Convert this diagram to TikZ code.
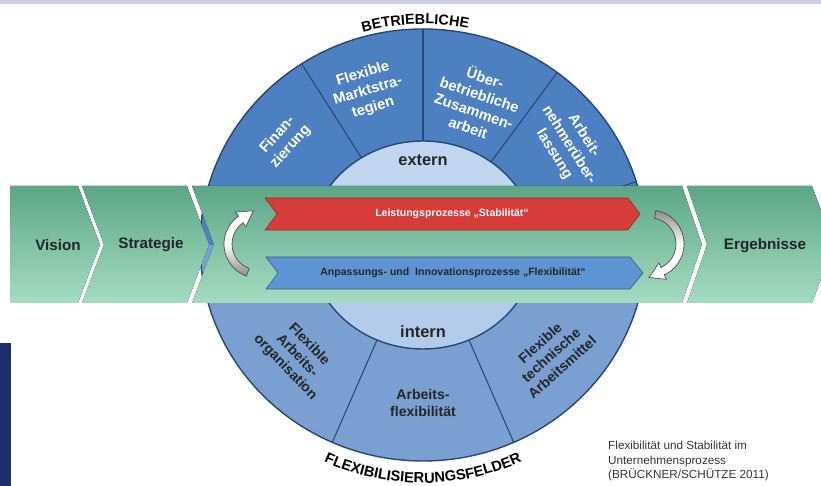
\documentclass[tikz,border=0pt]{standalone}
\usepackage{fontspec}
\setmainfont{Liberation Sans}
\usepackage{xcolor}
\usepackage{tikz}
\usetikzlibrary{decorations.text}

\definecolor{bandtop}{RGB}{92,166,134}
\definecolor{bandbot}{RGB}{164,220,194}
\definecolor{ringup}{RGB}{77,128,193}
\definecolor{ringlow}{RGB}{122,160,209}
\definecolor{innerup}{RGB}{192,214,238}
\definecolor{innerlow}{RGB}{178,203,232}
\definecolor{ringline}{RGB}{40,70,120}
\definecolor{redarrow}{RGB}{214,60,58}
\definecolor{bluearrow}{RGB}{95,148,212}
\definecolor{navybar}{RGB}{30,45,110}
\definecolor{topline}{RGB}{206,206,234}

\begin{document}
\begin{tikzpicture}[x=0.03cm,y=0.03cm,
    chevron/.style={top color=bandtop,bottom color=bandbot},
    stage/.style={font=\bfseries\fontsize{13}{15}\selectfont,text=black!85},
    ring/.style={draw=ringline,line width=1.2pt},
    divider/.style={draw=ringline,line width=0.9pt},
    field/.style={align=center,inner sep=0pt,font=\bfseries\fontsize{12}{14}\selectfont},
    upfield/.style={field,text=white,font=\bfseries\fontsize{12.5}{15}\selectfont},
    core/.style={font=\bfseries\fontsize{14}{16}\selectfont,text=black!85},
    flow/.style={inner sep=0pt,font=\bfseries\fontsize{9}{10}\selectfont},
    turn/.style={draw=black!70,line width=0.6pt}]
    \useasboundingbox (0,0) rectangle (821,486);

    % thin strip on top and bar at the left
    \fill[topline] (0,482) rectangle (821,486);
    \fill[navybar] (0,0) rectangle (11,143);

    % draw the ring with its fields
    \begin{scope}[shift={(423,241)}]
        \fill[ringlow] (0,0) ellipse [x radius=223,y radius=216];
        \fill[ringup] (223,0) arc[start angle=0,end angle=180,x radius=223,y radius=216] -- cycle;
        \fill[innerlow] (0,0) ellipse [x radius=113,y radius=104];
        \fill[innerup] (113,0) arc[start angle=0,end angle=180,x radius=113,y radius=104] -- cycle;
        \draw[ring] (0,0) ellipse [x radius=223,y radius=216];
        \draw[ring] (0,0) ellipse [x radius=113,y radius=104];
        \foreach \a in {17,53,90,123,246,294}
        \draw[divider] (\a:113 and 104) -- (\a:223 and 216);
        % words along the rim
        \path[decorate,decoration={text along path,text align=center,
            text={|\bfseries\fontsize{12.3}{14}\selectfont|BETRIEBLICHE}}]
            (127:221) arc[start angle=127,end angle=57,radius=221];
        \path[decorate,decoration={text along path,text align=center,
            text={|\bfseries\fontsize{12.5}{14}\selectfont|FLEXIBILISIERUNGSFELDER}}]
            (228:238) arc[start angle=228,end angle=312,radius=238];
    \end{scope}

    \node[upfield,rotate=48] (finanz) at (284,345) {Finan-\\zierung};
    \node[upfield,rotate=17] (markt) at (368,395) {Flexible\\Marktstra-\\tegien};
    \node[upfield,rotate=-19] (ueber) at (477,384) {Über-\\betriebliche\\Zusammen-\\arbeit};
    \node[upfield,rotate=-58] (leih) at (569,341) {Arbeit-\\nehmerüber-\\lassung};
    \node[core] (extern) at (423,326) {extern};

    % draw the process band
    \fill[chevron] (10,300) -- (78,300) -- (100,241.5) -- (78,183) -- (10,183) -- cycle;
    \fill[chevron] (82,300) -- (187,300) -- (209,241.5) -- (187,183) -- (82,183) -- (104,241.5) -- cycle;
    \fill[chevron] (192,300) -- (682,300) -- (702,241.5) -- (682,183) -- (192,183) -- (214,241.5) -- cycle;
    \fill[chevron] (687,300) -- (812,300) -- (821,276) -- (821,207) -- (812,183) -- (687,183) -- (707,241.5) -- cycle;
    \node[stage] (vision) at (58,241) {Vision};
    \node[stage] (strategie) at (151,241) {Strategie};
    \node[stage] (ergebnisse) at (765,240) {Ergebnisse};

    % the two process arrows
    \filldraw[fill=redarrow,draw=redarrow!70!black,line width=0.5pt]
        (265,288) -- (628,288) -- (640,272) -- (628,256) -- (265,256) -- (277,272) -- cycle;
    \filldraw[fill=bluearrow,draw=bluearrow!60!black,line width=0.5pt]
        (266,229) -- (630,229) -- (643,213) -- (630,197) -- (266,197) -- (278,213) -- cycle;
    \node[flow,text=white] (leistung) at (452,272) {Leistungsprozesse „Stabilität“};
    \node[flow,text=black!85] (anpassung) at (453,213) {Anpassungs- und~ Innovationsprozesse „Flexibilität“};

    % turning arrows
    \begin{scope}[shift={(258,242)}]
        \draw[turn,top color=white,bottom color=black!45,middle color=white]
            (250:34) arc[start angle=250,end angle=125,radius=34] -- (125:39) -- (-4.9,33.2)
            -- (125:21) -- (125:26) arc[start angle=125,end angle=250,radius=26] -- cycle;
    \end{scope}
    \begin{scope}[shift={(650,242)}]
        \draw[turn,top color=black!45,bottom color=white,middle color=white]
            (80:34) arc[start angle=80,end angle=-65,radius=34] -- (-65:39) -- (-0.9,-33.5)
            -- (-65:21) -- (-65:26) arc[start angle=-65,end angle=80,radius=26] -- cycle;
    \end{scope}

    \node[core] (intern) at (423,154) {intern};
    \node[field,text=black!85,rotate=-46] (orga) at (297,130) {Flexible\\Arbeits-\\organisation};
    \node[field,text=black!85] (flex) at (423,83) {Arbeits-\\flexibilität};
    \node[field,text=black!85,rotate=42] (technik) at (551,131) {Flexible\\technische\\Arbeitsmittel};

    \node[anchor=north west,align=left,inner sep=0pt,text=black!80,
        font=\fontsize{10}{12.3}\selectfont] (quelle) at (608,45)
        {Flexibilität und Stabilität im\\Unternehmensprozess\\(BRÜCKNER/SCHÜTZE 2011)};
\end{tikzpicture}
\end{document}
